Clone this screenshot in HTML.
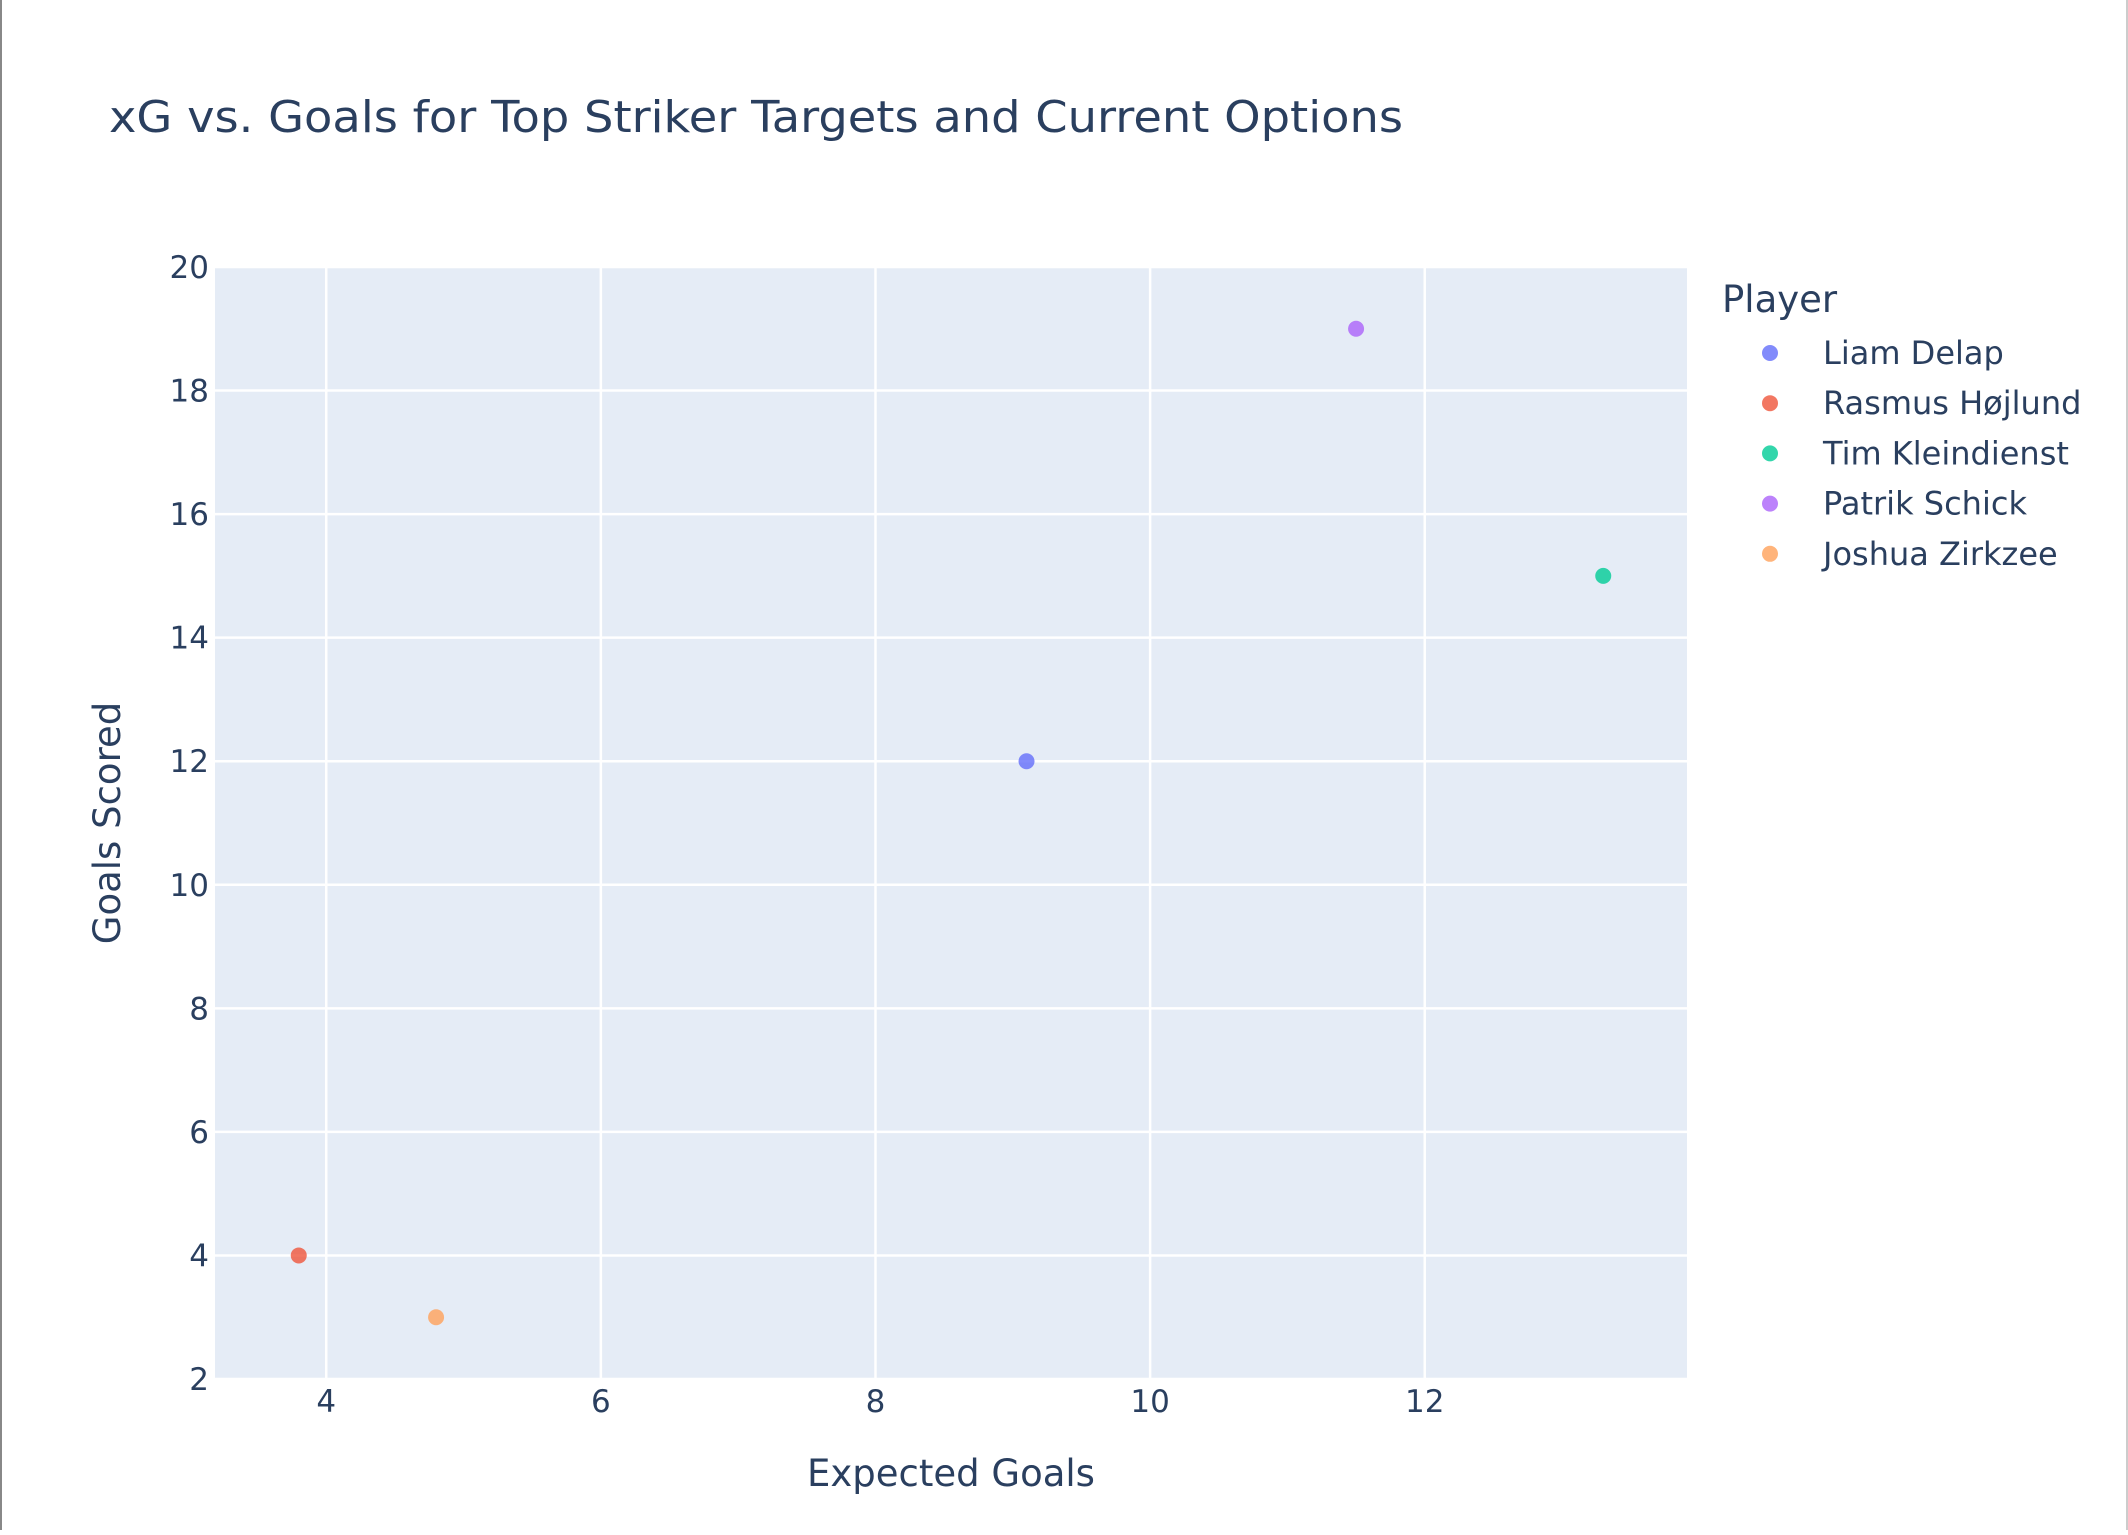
<!DOCTYPE html>
<html><head><meta charset="utf-8">
<style>
html,body{margin:0;padding:0;background:#fff;}
#chart{position:relative;width:2128px;height:1530px;box-sizing:border-box;border-left:2px solid #888;border-right:2px solid #ccc;}
svg text{font-family:"DejaVu Sans","Liberation Sans",sans-serif;fill:#2a3f5f;}
</style></head>
<body>
<div id="chart">
<svg id="svg" width="2124" height="1530" xmlns="http://www.w3.org/2000/svg">
<text x="107" y="132" font-size="44" textLength="1294" lengthAdjust="spacingAndGlyphs">xG vs. Goals for Top Striker Targets and Current Options</text>
<rect x="213" y="267" width="1472" height="1112" fill="#E5ECF6"/>
<g id="grid"></g>
<g id="ticks"></g>
<g id="points"></g>
<text x="949" y="1486" font-size="37" text-anchor="middle">Expected Goals</text>
<text transform="translate(118,823) rotate(-90)" font-size="37" text-anchor="middle">Goals Scored</text>
<text x="1720" y="312" font-size="37">Player</text>
<g id="legend"></g>
</svg>
</div>
<script>
const players = ["Liam Delap","Rasmus Højlund","Tim Kleindienst","Patrik Schick","Joshua Zirkzee"];
const xgValues = [9.1, 3.8, 13.3, 11.5, 4.8];
const goalValues = [12, 4, 15, 19, 3];
const colors = ["#636efa","#EF553B","#00cc96","#ab63fa","#FFA15A"];
const xTicks = [4, 6, 8, 10, 12];
const yTicks = [2, 4, 6, 8, 10, 12, 14, 16, 18, 20];

const NS = "http://www.w3.org/2000/svg";
const X0 = 213, X1 = 1685, Y0 = 267, Y1 = 1379;
const xMin = 3.19, xMax = 13.91, yMin = 2, yMax = 20;
function xs(v){ return X0 + (v - xMin) / (xMax - xMin) * (X1 - X0); }
function ys(v){ return Y1 - (v - yMin) / (yMax - yMin) * (Y1 - Y0); }
function mk(tag, attrs, parent){ const e = document.createElementNS(NS, tag); for (const k in attrs) e.setAttribute(k, attrs[k]); parent.appendChild(e); return e; }

const grid = document.getElementById('grid'), ticks = document.getElementById('ticks');
xTicks.forEach(t => {
  const l = mk('line', {x1: xs(t), x2: xs(t), y1: Y0, y2: Y1, stroke: '#fff', 'stroke-width': 2.5}, grid);
  
  
  const tx = mk('text', {x: xs(t), y: 1412, 'font-size': 31, 'text-anchor': 'middle'}, ticks);
  tx.textContent = t;
  
  
});
yTicks.forEach(t => {
  const l = mk('line', {x1: X0, x2: X1, y1: ys(t), y2: ys(t), stroke: '#fff', 'stroke-width': 2.5}, grid);
  
  
  const tx = mk('text', {x: 207, y: ys(t) + 11, 'font-size': 31, 'text-anchor': 'end'}, ticks);
  tx.textContent = t;
  
  
});

const pts = document.getElementById('points'), leg = document.getElementById('legend');
players.forEach((p, i) => {
  const c = mk('circle', {cx: xs(xgValues[i]), cy: ys(goalValues[i]), r: 8, fill: colors[i], opacity: 0.8}, pts);
  
  
  const y = 353 + i * 50.2;
  const g = mk('g', {}, leg);
  
  
  mk('circle', {cx: 1768, cy: y, r: 8, fill: colors[i], opacity: 0.8}, g);
  const t = mk('text', {x: 1821, y: y + 11, 'font-size': 32}, g);
  t.textContent = p;
});
</script>
</body></html>
